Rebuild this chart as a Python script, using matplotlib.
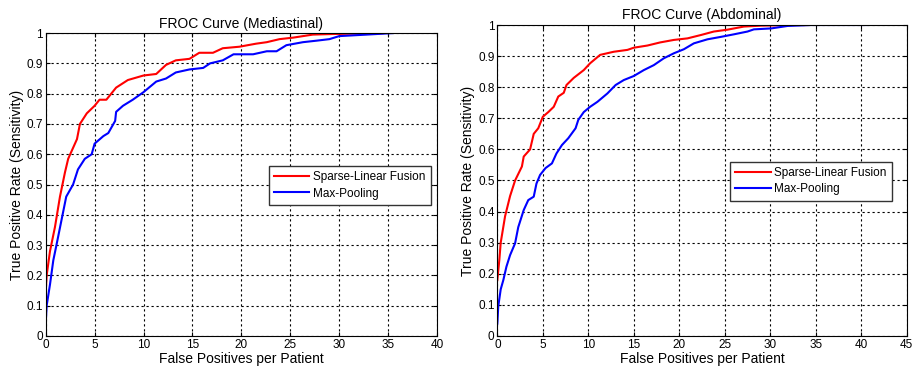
import matplotlib.pyplot as plt
from matplotlib.ticker import FormatStrFormatter

plt.rcParams['font.family'] = ['Liberation Sans', 'DejaVu Sans']

# Mediastinal FROC curves
med_fusion_x = [0, 0.1, 0.44, 0.95, 1.46, 1.97, 2.3, 3.2, 3.5, 4.2, 5.0, 5.5, 6.2, 7.2, 8.4,
                10.0, 11.3, 12.3, 13.3, 14.7, 15.7, 17.1, 18.1, 19.8, 21.5, 22.6, 23.9,
                25.3, 27.3, 29.4, 34.5]
med_fusion_y = [0.146, 0.2, 0.28, 0.36, 0.46, 0.54, 0.585, 0.65, 0.7, 0.735, 0.76, 0.78, 0.78,
                0.82, 0.845, 0.86, 0.865, 0.895, 0.91, 0.915, 0.935, 0.935, 0.95, 0.955, 0.965,
                0.97, 0.98, 0.985, 0.995, 0.997, 1.0]
med_pool_x = [0, 0.1, 0.44, 0.78, 1.1, 1.6, 2.1, 2.8, 3.3, 4.0, 4.7, 5.0, 5.9, 6.4, 7.1, 7.2,
              7.9, 8.9, 10.0, 11.3, 12.3, 13.3, 14.7, 16.1, 16.8, 18.1, 19.2, 21.2, 22.6,
              23.6, 24.6, 26.3, 27.7, 29.0, 30.0, 32.8, 35.5]
med_pool_y = [0.04, 0.1, 0.17, 0.25, 0.3, 0.38, 0.46, 0.5, 0.55, 0.585, 0.6, 0.635, 0.66, 0.67,
              0.71, 0.74, 0.76, 0.78, 0.805, 0.84, 0.85, 0.87, 0.88, 0.885, 0.9, 0.91, 0.93,
              0.93, 0.94, 0.94, 0.96, 0.97, 0.975, 0.98, 0.99, 0.995, 1.0]

# Abdominal FROC curves
abd_fusion_x = [0, 0.22, 0.37, 0.85, 1.4, 1.95, 2.7, 2.9, 3.6, 4.0, 4.5, 5.0, 5.6, 6.2, 6.7,
                7.3, 7.6, 8.4, 9.5, 10.2, 11.3, 12.8, 14.3, 15.0, 16.5, 17.9, 19.4, 20.9,
                22.4, 23.8, 25.3, 27.1, 29.0, 32.6, 34.0]
abd_fusion_y = [0.18, 0.245, 0.3, 0.385, 0.45, 0.5, 0.545, 0.577, 0.6, 0.65, 0.668, 0.705,
                0.72, 0.737, 0.77, 0.782, 0.807, 0.83, 0.855, 0.877, 0.904, 0.914, 0.92,
                0.927, 0.934, 0.944, 0.952, 0.957, 0.968, 0.979, 0.985, 0.995, 0.998, 1.0, 1.0]
abd_pool_x = [0, 0.1, 0.37, 0.66, 1.0, 1.4, 1.95, 2.3, 2.9, 3.4, 4.0, 4.3, 4.7, 5.3, 6.0, 6.5,
              7.1, 7.8, 8.6, 8.9, 9.5, 10.2, 11.0, 12.1, 13.0, 13.9, 15.0, 16.1, 17.2, 18.3,
              19.4, 20.5, 21.6, 23.1, 24.6, 26.0, 27.5, 28.2, 30.1, 31.9, 34.5, 40.7]
abd_pool_y = [0.04, 0.095, 0.15, 0.18, 0.223, 0.26, 0.298, 0.35, 0.405, 0.437, 0.448, 0.49,
              0.518, 0.54, 0.555, 0.587, 0.614, 0.636, 0.668, 0.695, 0.72, 0.737, 0.753, 0.78,
              0.807, 0.823, 0.836, 0.855, 0.871, 0.893, 0.909, 0.922, 0.941, 0.954, 0.962,
              0.97, 0.979, 0.986, 0.989, 0.997, 1.0, 1.0]

fig = plt.figure(figsize=(9.21, 3.76), dpi=100)
ax1 = fig.add_axes([0.0496, 0.1064, 0.4249, 0.8056])
ax2 = fig.add_axes([0.540, 0.1064, 0.4445, 0.8271])


def style_axis(ax, xmax, title):
    ax.set_xlim(0, xmax)
    ax.set_ylim(0, 1)
    ax.set_xticks(range(0, xmax + 1, 5))
    ax.set_yticks([i / 10 for i in range(11)])
    ax.yaxis.set_major_formatter(FormatStrFormatter('%g'))
    ax.grid(True, color='black', linestyle=(0, (2, 2.5)), linewidth=0.8)
    ax.tick_params(direction='in', length=3, labelsize=8.5, top=True, right=True, pad=2)
    for s in ax.spines.values():
        s.set_linewidth(0.8)
    ax.set_title(title, fontsize=10, pad=4)
    ax.set_xlabel('False Positives per Patient', fontsize=10, labelpad=1)
    ax.set_ylabel('True Positive Rate (Sensitivity)', fontsize=10, labelpad=2)


def add_legend(ax, anchor):
    ax.legend(loc='upper left', bbox_to_anchor=anchor, borderaxespad=0, fontsize=8.5,
              fancybox=False, edgecolor='#333333', framealpha=1, borderpad=0.45,
              handlelength=3.0, handletextpad=0.3, labelspacing=0.35)


ax1.plot(med_fusion_x, med_fusion_y, color='red', lw=1.5, label='Sparse-Linear Fusion')
ax1.plot(med_pool_x, med_pool_y, color='blue', lw=1.5, label='Max-Pooling')
style_axis(ax1, 40, 'FROC Curve (Mediastinal)')
add_legend(ax1, (0.570, 0.561))

ax2.plot(abd_fusion_x, abd_fusion_y, color='red', lw=1.5, label='Sparse-Linear Fusion')
ax2.plot(abd_pool_x, abd_pool_y, color='blue', lw=1.5, label='Max-Pooling')
style_axis(ax2, 45, 'FROC Curve (Abdominal)')
add_legend(ax2, (0.568, 0.56))

fig.savefig('out.png', dpi=100)
